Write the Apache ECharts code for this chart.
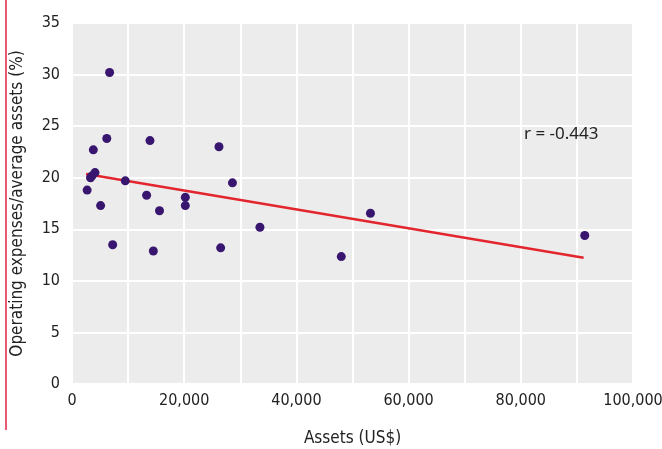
<!DOCTYPE html>
<html>
<head>
<meta charset="utf-8">
<script src="https://cdn.jsdelivr.net/npm/echarts@6/dist/echarts.min.js"></script>
<style>
  html, body { margin: 0; padding: 0; background: #fff; }
  #chart { width: 662px; height: 449px; }
</style>
</head>
<body>
<div id="chart"></div>
<script>
// Bank assets (US$) and operating expenses as a share of average assets (%)
const assets = [2700, 3300, 3600, 4100, 3800, 5100, 6200, 6700, 7250, 9500,
                13300, 13900, 14500, 15600, 20200, 20200, 26200, 26500, 28600,
                33500, 48000, 53200, 91400];
const expenseRatio = [18.8, 20.0, 20.2, 20.5, 22.7, 17.3, 23.8, 30.2, 13.5, 19.7,
                      18.3, 23.6, 12.9, 16.8, 18.1, 17.3, 23.0, 13.2, 19.5,
                      15.2, 12.35, 16.55, 14.4];

// Least-squares fit line end points
const fitAssets = [2500, 91200];
const fitRatio = [20.37, 12.25];

const correlationLabel = 'r = -0.443';

const xTicks = [0, 20000, 40000, 60000, 80000, 100000];
const yTicks = [0, 5, 10, 15, 20, 25, 30, 35];

const points = assets.map((a, i) => [a, expenseRatio[i]]);
const fitLine = fitAssets.map((a, i) => [a, fitRatio[i]]);

const labelFont = 'DejaVu Sans Condensed, DejaVu Sans, sans-serif';

const chart = echarts.init(document.getElementById('chart'), null, { renderer: 'canvas' });
chart.setOption({
  animation: false,
  backgroundColor: '#ffffff',
  grid: {
    left: 72, right: 29, top: 23, bottom: 65,
    containLabel: false, outerBoundsMode: 'none',
    show: true, backgroundColor: '#ececec', borderWidth: 0
  },
  xAxis: {
    type: 'value',
    min: xTicks[0], max: xTicks[xTicks.length - 1], interval: 20000,
    name: 'Assets (US$)', nameLocation: 'middle', nameGap: 46,
    nameTextStyle: { color: '#222', fontSize: 17, fontFamily: labelFont },
    axisLine: { show: false }, axisTick: { show: false },
    axisLabel: {
      color: '#222', fontSize: 16, fontFamily: labelFont, margin: 9,
      formatter: v => v.toLocaleString('en-US')
    },
    splitLine: { show: true, lineStyle: { color: '#ffffff', width: 2 } },
    minorTick: { show: false, splitNumber: 2 },
    minorSplitLine: { show: true, lineStyle: { color: '#ffffff', width: 2 } }
  },
  yAxis: {
    type: 'value',
    min: yTicks[0], max: yTicks[yTicks.length - 1], interval: 5,
    name: 'Operating expenses/average assets (%)', nameLocation: 'middle', nameGap: 46,
    nameTextStyle: { color: '#222', fontSize: 17, fontFamily: labelFont },
    axisLine: { show: false }, axisTick: { show: false },
    axisLabel: { color: '#222', fontSize: 16, fontFamily: labelFont, margin: 12 },
    splitLine: { show: true, lineStyle: { color: '#ffffff', width: 2 } }
  },
  graphic: [
    {
      type: 'rect', left: 5, top: 0, z: 10,
      shape: { width: 2, height: 430 },
      style: { fill: '#e85a72' }
    },
    {
      type: 'text', left: 524, top: 126, z: 10,
      style: { text: correlationLabel, fill: '#222', font: '17px "Noto Sans", sans-serif' }
    }
  ],
  series: [
    {
      type: 'line', data: fitLine, showSymbol: false, symbol: 'none',
      lineStyle: { color: '#e3262d', width: 2.5 }, z: 3
    },
    {
      type: 'scatter', data: points, symbol: 'circle', symbolSize: 9,
      itemStyle: { color: '#38166f', opacity: 1 }, z: 4
    }
  ]
});
</script>
</body>
</html>
